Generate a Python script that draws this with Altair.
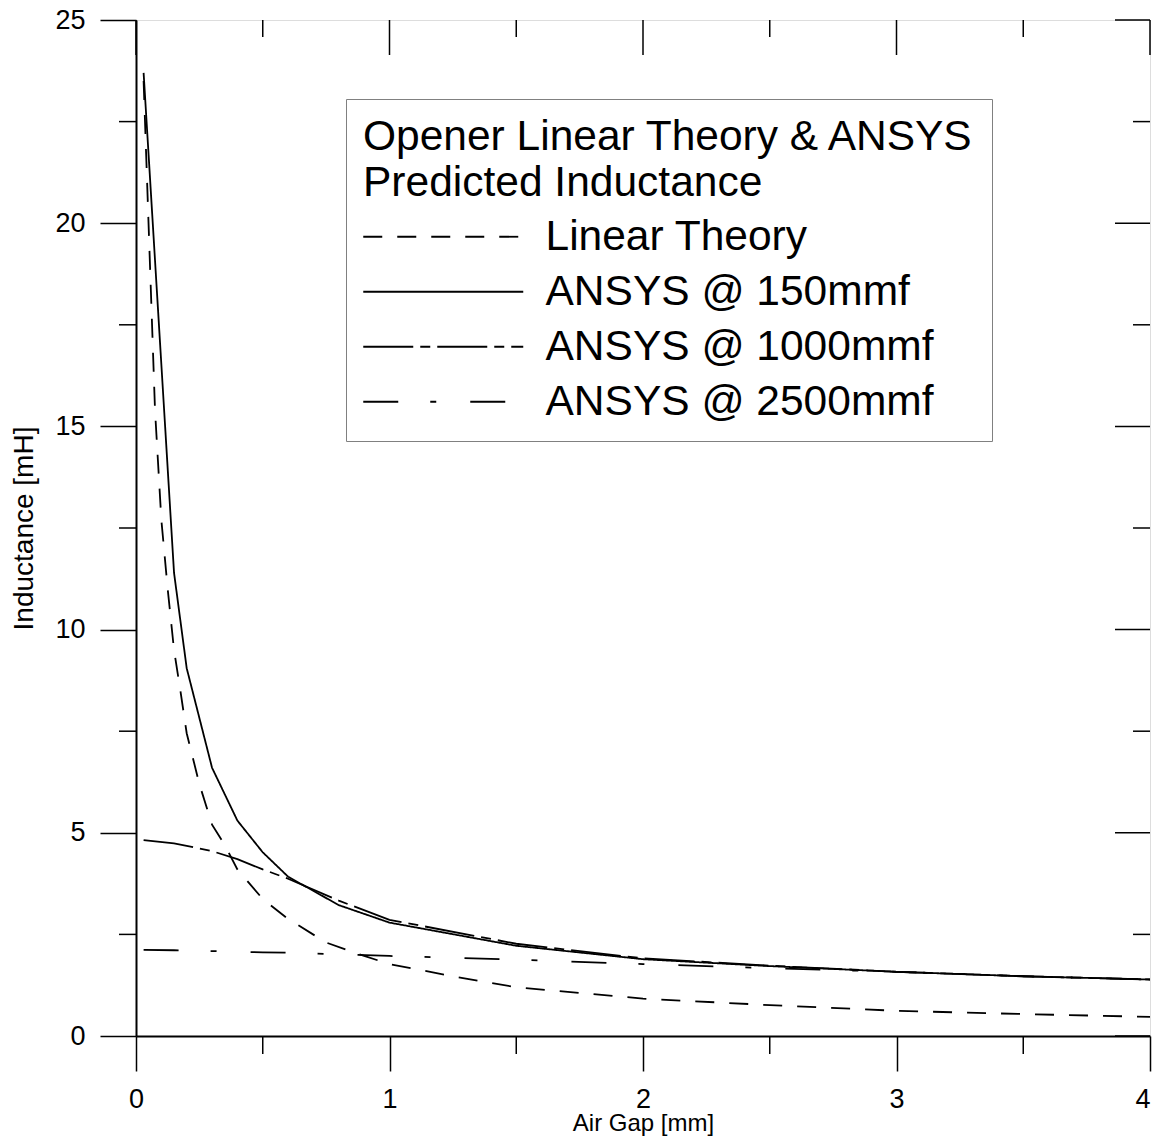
import altair as alt
import pandas as pd

# ---- data ----
series_names = ["Linear Theory", "ANSYS @ 150mmf", "ANSYS @ 1000mmf", "ANSYS @ 2500mmf"]

linear_gap = [0.03, 0.075, 0.1, 0.125, 0.15, 0.175, 0.2, 0.25, 0.3, 0.35, 0.4, 0.5,
              0.6, 0.75, 0.9, 1.0, 1.25, 1.5, 2.0, 2.5, 3.0, 3.5, 4.0]
linear_L = [23.5, 15.4, 12.7, 11.0, 9.5, 8.5, 7.45, 6.2, 5.2, 4.7, 4.1, 3.37,
            2.88, 2.3, 1.97, 1.77, 1.47, 1.2, 0.92, 0.76, 0.62, 0.54, 0.47]

ansys_gap = [0.03, 0.15, 0.2, 0.3, 0.4, 0.5, 0.6, 0.8, 1.0, 1.5, 2.0, 2.5, 3.0, 3.5, 4.0]
ansys150_L = [23.7, 11.4, 9.05, 6.6, 5.3, 4.52, 3.92, 3.22, 2.79, 2.22, 1.89, 1.72, 1.58, 1.47, 1.39]
ansys1000_L = [4.82, 4.74, 4.68, 4.55, 4.35, 4.1, 3.87, 3.33, 2.86, 2.27, 1.91, 1.73, 1.58, 1.47, 1.39]
ansys2500_L = [2.12, 2.11, 2.10, 2.09, 2.07, 2.06, 2.05, 2.01, 1.97, 1.88, 1.77, 1.67, 1.58, 1.47, 1.39]

x_major_ticks = [0, 1, 2, 3, 4]
x_minor_ticks = [0.5, 1.5, 2.5, 3.5]
y_major_ticks = [0, 5, 10, 15, 20, 25]
y_minor_ticks = [2.5, 7.5, 12.5, 17.5, 22.5]

dash_patterns = [[19, 15], [1, 0], [50, 7, 10, 7], [35, 32, 6, 34]]

rows = []
for g, v in zip(linear_gap, linear_L):
    rows.append({"gap": g, "L": v, "series": series_names[0]})
for name, vals in zip(series_names[1:], [ansys150_L, ansys1000_L, ansys2500_L]):
    for g, v in zip(ansys_gap, vals):
        rows.append({"gap": g, "L": v, "series": name})
df = pd.DataFrame(rows)

W, H = 1014, 1016
FONT = "Liberation Sans"

xscale = alt.Scale(domain=[0, 4], nice=False, zero=False)
yscale = alt.Scale(domain=[0, 25], nice=False, zero=False)

x_axis = alt.Axis(values=x_major_ticks, tickSize=35, tickWidth=1.5, tickColor="black",
                  domain=True, domainColor="black", domainWidth=2, grid=False,
                  labelFontSize=27, labelPadding=15,
                  labelAlign={"expr": "datum.value == 4 ? 'right' : 'center'"},
                  labelFlush=False, labelColor="black", labelFont=FONT,
                  titleFont=FONT, titleFontSize=24, titleFontWeight="normal",
                  titleColor="black", titleBaseline="alphabetic", titleY=94, format="d")
y_axis = alt.Axis(values=y_major_ticks, tickSize=36, tickWidth=1.5, tickColor="black",
                  domain=True, domainColor="black", domainWidth=2, grid=False,
                  labelFontSize=27, labelPadding=15,
                  labelFlush=False, labelColor="black", labelFont=FONT,
                  titleFont=FONT, titleFontSize=28, titleFontWeight="normal",
                  titleColor="black", titlePadding=16, format="d")
X_TITLE = "Air Gap [mm]"
Y_TITLE = "Inductance [mH]"

lines = alt.Chart(df).mark_line(color="black", strokeWidth=1.8, clip=True).encode(
    x=alt.X("gap:Q", scale=xscale, title=X_TITLE, axis=x_axis),
    y=alt.Y("L:Q", scale=yscale, title=Y_TITLE, axis=y_axis),
    strokeDash=alt.StrokeDash(
        "series:N",
        scale=alt.Scale(domain=series_names, range=dash_patterns),
        sort=series_names,
        legend=alt.Legend(
            title=["Opener Linear Theory & ANSYS", "Predicted Inductance"],
            orient="none", legendX=210, legendY=79, direction="vertical",
            symbolType="M-4,0H4", symbolSize=1600, symbolStrokeWidth=1.8,
            symbolStrokeColor="black", symbolOffset=59, labelOffset=81,
            labelFontSize=42.5, labelFont=FONT, labelColor="black", labelLimit=900,
            titleFontSize=42.5, titleFont=FONT, titleFontWeight="normal", titleColor="black",
            titleLimit=900, titleLineHeight=46, titlePadding=11, rowPadding=12,
            padding=17, strokeColor="#808080", fillColor="white",
        ),
    ),
)

def vticks(vals, y0, y1):
    return alt.Chart(pd.DataFrame({"v": vals})).mark_rule(color="black", strokeWidth=1.5).encode(
        x=alt.X("v:Q", scale=xscale, title=X_TITLE, axis=x_axis),
        y=alt.value(y0), y2=alt.value(y1))

def hticks(vals, x0, x1):
    return alt.Chart(pd.DataFrame({"v": vals})).mark_rule(color="black", strokeWidth=1.5).encode(
        y=alt.Y("v:Q", scale=yscale, title=Y_TITLE, axis=y_axis),
        x=alt.value(x0), x2=alt.value(x1))

top_major = vticks(x_major_ticks, 0, 35)
top_minor = vticks(x_minor_ticks, 0, 17)
bottom_minor = vticks(x_minor_ticks, H, H + 18)
right_major = hticks(y_major_ticks, W - 35, W)
right_minor = hticks(y_minor_ticks, W - 17, W)
left_minor = hticks(y_minor_ticks, -17, 0)

chart = alt.layer(lines, top_major, top_minor, bottom_minor, right_major, right_minor, left_minor).properties(
    width=W, height=H,
    autosize=alt.AutoSizeParams(type="none"),
    padding={"left": 128, "top": 12, "right": 4, "bottom": 100},
).configure_view(stroke="black", strokeWidth=2).configure(background="white")

chart.save("out.html", embed_options={"renderer": "svg", "actions": False})
